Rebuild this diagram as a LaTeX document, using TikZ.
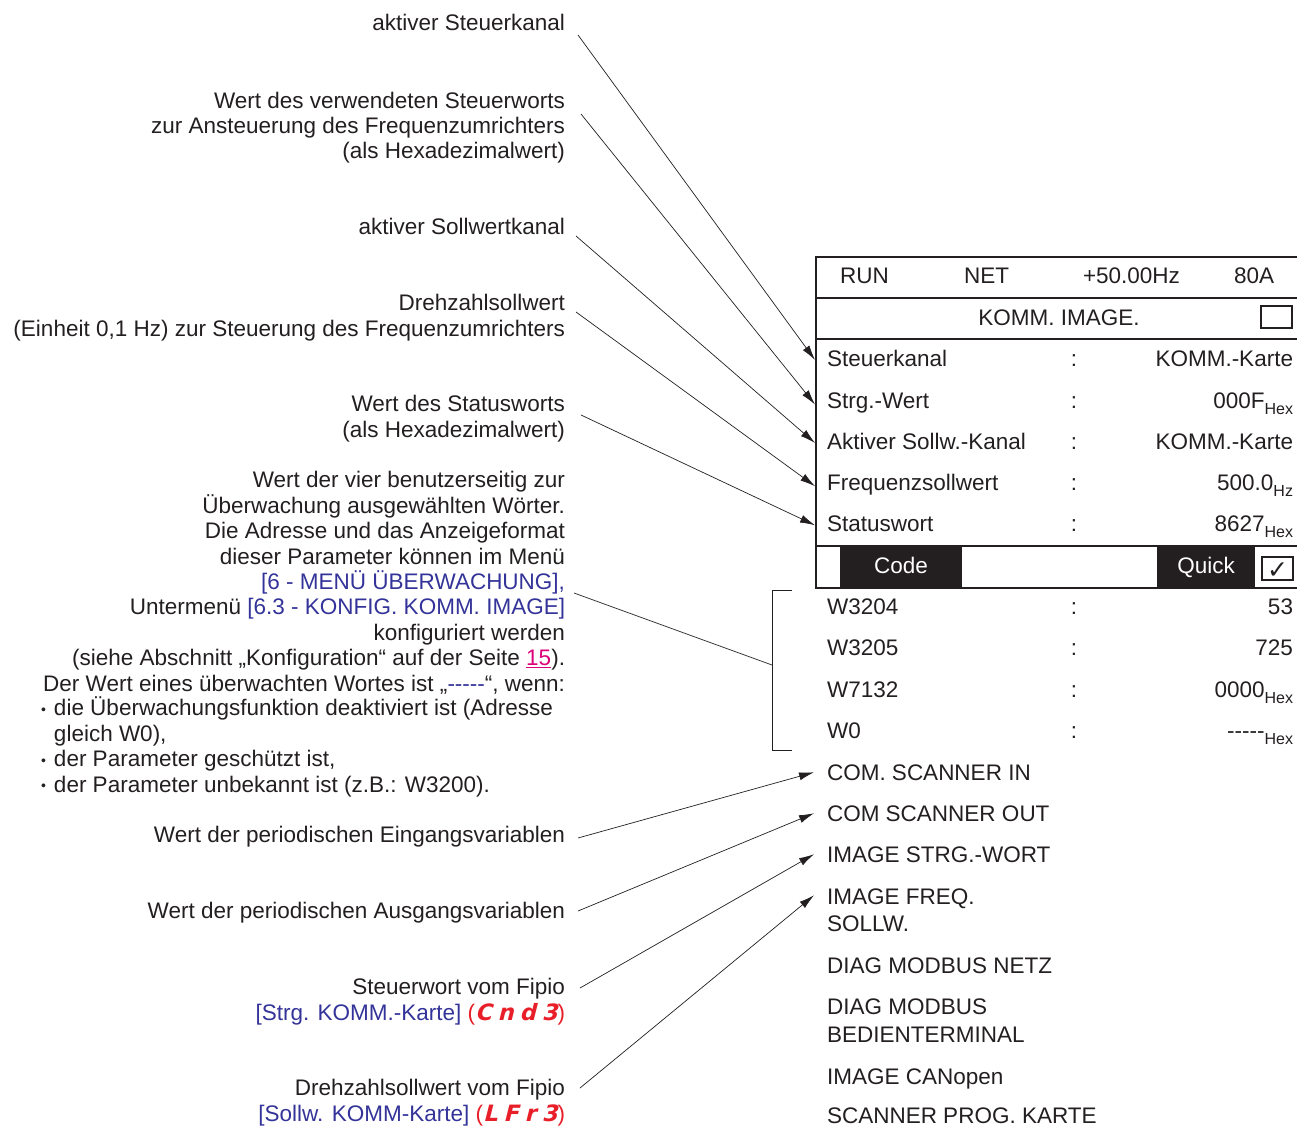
\documentclass[tikz,border=0pt]{standalone}
\usepackage{fontspec}
\setmainfont{Liberation Sans}
\newfontfamily\djv{DejaVu Sans}
\newfontfamily\segfont{DejaVu Sans}[FakeSlant=0.25]
\usetikzlibrary{arrows.meta}
\definecolor{txt}{RGB}{35,31,32}
\definecolor{lnkblue}{RGB}{51,51,153}
\definecolor{segred}{RGB}{232,30,40}
\definecolor{pagemag}{RGB}{220,0,120}
\newcommand\fivedash{\mbox{-}\mbox{-}\mbox{-}\mbox{-}\mbox{-}}
\newcommand\subx[1]{\raisebox{-6pt}{\fontsize{16}{16}\selectfont #1}}
\newcommand\bl{\makebox[13pt][l]{\raisebox{1.5pt}{\fontsize{14}{14}\selectfont •}}}
\newcommand\seg[1]{{\segfont\bfseries #1}}
\begin{document}
\begin{tikzpicture}[x=1pt,y=-1pt,
  every node/.style={inner sep=0pt,outer sep=0pt,text=txt},
  font=\fontsize{22.5}{25.4}\selectfont,
  lefttxt/.style={anchor=base east,align=right},
  rowlbl/.style={anchor=base west},
  rowval/.style={anchor=base east},
  rowcol/.style={anchor=base},
  conn/.style={draw=txt,line width=0.7pt,-{Latex[length=15pt,width=8pt]}},
  plainln/.style={draw=txt,line width=0.7pt},
  frame/.style={draw=txt,line width=2.6pt},
  thinframe/.style={draw=txt,line width=1.2pt},
  blackbox/.style={fill=txt,draw=none},
  chk/.style={draw=txt,line width=1.2pt}
]
\useasboundingbox (0,0) rectangle (1297,1126);

% ---------- left texts (base = baseline of last line) ----------
\node[lefttxt] (l1) at (565,31) {aktiver Steuerkanal};
\node[lefttxt] (l2) at (565,159) {Wert des verwendeten Steuerworts\\zur Ansteuerung des Frequenzumrichters\\(als Hexadezimalwert)};
\node[lefttxt] (l3) at (565,234) {aktiver Sollwertkanal};
\node[lefttxt] (l4) at (565,336) {Drehzahlsollwert\\(Einheit 0,1 Hz) zur Steuerung des Frequenzumrichters};
\node[lefttxt] (l5) at (565,437) {Wert des Statusworts\\(als Hexadezimalwert)};
\node[lefttxt] (l6) at (565,691) {Wert der vier benutzerseitig zur\\
Überwachung ausgewählten Wörter.\\
Die Adresse und das Anzeigeformat\\
dieser Parameter können im Menü\\
{\color{lnkblue}[6 - MENÜ ÜBERWACHUNG],}\\
Untermenü {\color{lnkblue}[6.3 - KONFIG. KOMM. IMAGE]}\\
konfiguriert werden\\
(siehe Abschnitt „Konfiguration“ auf der Seite {\color{pagemag}\underline{15}}).\\
Der Wert eines überwachten Wortes ist „{\color{lnkblue}\fivedash}“, wenn:};
\node[anchor=base west,align=left] (l7) at (41,792) {\bl die Überwachungsfunktion deaktiviert ist (Adresse\\
\hspace*{13pt}gleich W0),\\
\bl der Parameter geschützt ist,\\
\bl der Parameter unbekannt ist (z.B.: W3200).};
\node[lefttxt] (l8) at (565,842) {Wert der periodischen Eingangsvariablen};
\node[lefttxt] (l9) at (565,918) {Wert der periodischen Ausgangsvariablen};
\node[lefttxt] (l10) at (565,1020) {Steuerwort vom Fipio\\
{\color{lnkblue}[Strg. KOMM.-Karte]} {\color{segred}(\seg{C\hspace{6pt}n\hspace{6pt}d\hspace{6pt}3})}};
\node[lefttxt] (l11) at (565,1121) {Drehzahlsollwert vom Fipio\\
{\color{lnkblue}[Sollw. KOMM-Karte]} {\color{segred}(\seg{L\hspace{6pt}F\hspace{6pt}r\hspace{6pt}3})}};

% ---------- display frame ----------
\draw[frame] (1297,257) -- (816,257) -- (816,588) -- (1297,588);
\draw[frame] (816,298) -- (1297,298);
\draw[thinframe] (816,339) -- (1297,339);
\draw[frame] (816,546) -- (1297,546);
\fill[blackbox] (840,547) rectangle (962,587);
\fill[blackbox] (1157,547) rectangle (1255,587);
\draw[chk] (1261,306) rectangle (1292,328);
\draw[chk] (1262,557) rectangle (1293,580);

% header row
\node[rowlbl] (hrun) at (840,283) {RUN};
\node[rowlbl] (hnet) at (964,283) {NET};
\node[rowlbl] (hhz) at (1083,283) {+50.00Hz};
\node[rowlbl] (ha) at (1234,283) {80A};
\node[rowcol] (title) at (1059,325) {KOMM. IMAGE.};

% rows
\node[rowlbl] (r1) at (827,366) {Steuerkanal};
\node[rowcol] (c1) at (1074,366) {:};
\node[rowval] (v1) at (1293,366) {KOMM.-Karte};
\node[rowlbl] (r2) at (827,408) {Strg.-Wert};
\node[rowcol] (c2) at (1074,408) {:};
\node[rowval] (v2) at (1293,408) {000F\subx{Hex}};
\node[rowlbl] (r3) at (827,449) {Aktiver Sollw.-Kanal};
\node[rowcol] (c3) at (1074,449) {:};
\node[rowval] (v3) at (1293,449) {KOMM.-Karte};
\node[rowlbl] (r4) at (827,490) {Frequenzsollwert};
\node[rowcol] (c4) at (1074,490) {:};
\node[rowval] (v4) at (1293,490) {500.0\subx{Hz}};
\node[rowlbl] (r5) at (827,531) {Statuswort};
\node[rowcol] (c5) at (1074,531) {:};
\node[rowval] (v5) at (1293,531) {8627\subx{Hex}};

\node[rowcol,text=white] (code) at (901,573) {Code};
\node[rowcol,text=white] (quick) at (1206,573) {Quick};
\node[rowcol] (tick) at (1277.5,578) {\djv\fontsize{25}{25}\selectfont ✓};

\node[rowlbl] (w1) at (827,614) {W3204};
\node[rowcol] (wc1) at (1074,614) {:};
\node[rowval] (wv1) at (1293,614) {53};
\node[rowlbl] (w2) at (827,655) {W3205};
\node[rowcol] (wc2) at (1074,655) {:};
\node[rowval] (wv2) at (1293,655) {725};
\node[rowlbl] (w3) at (827,697) {W7132};
\node[rowcol] (wc3) at (1074,697) {:};
\node[rowval] (wv3) at (1293,697) {0000\subx{Hex}};
\node[rowlbl] (w4) at (827,738) {W0};
\node[rowcol] (wc4) at (1074,738) {:};
\node[rowval] (wv4) at (1293,738) {\fivedash\subx{Hex}};

\node[rowlbl] (m1) at (827,780) {COM. SCANNER IN};
\node[rowlbl] (m2) at (827,821) {COM SCANNER OUT};
\node[rowlbl] (m3) at (827,862) {IMAGE STRG.-WORT};
\node[rowlbl,align=left,font=\fontsize{22.5}{27}\selectfont] (m4) at (827,931) {IMAGE FREQ.\\SOLLW.};
\node[rowlbl] (m5) at (827,973) {DIAG MODBUS NETZ};
\node[rowlbl,align=left,font=\fontsize{22.5}{28}\selectfont] (m6) at (827,1042) {DIAG MODBUS\\BEDIENTERMINAL};
\node[rowlbl] (m7) at (827,1084) {IMAGE CANopen};
\node[rowlbl] (m8) at (827,1123) {SCANNER PROG. KARTE};

% bracket
\coordinate (bt) at (792,590);
\coordinate (bb) at (792,750);
\coordinate (bm) at (772,665);
\draw[plainln] (bt) -- (772,590) -- (772,750) -- (bb);

% ---------- connectors ----------
\coordinate (s1) at (578,35);
\coordinate (s2) at (581,114);
\coordinate (s3) at (576,236);
\coordinate (s4) at (576,312);
\coordinate (s5) at (581,415);
\coordinate (s6) at (574,593);
\coordinate (s8) at (578,838);
\coordinate (s9) at (578,911);
\coordinate (s10) at (580,988);
\coordinate (s11) at (580,1088);

\draw[conn] (s1) -- ([xshift=-12pt,yshift=-2pt]r1.west);
\draw[conn] (s2) -- ([xshift=-12pt,yshift=-2pt]r2.west);
\draw[conn] (s3) -- ([xshift=-12pt,yshift=-2pt]r3.west);
\draw[conn] (s4) -- ([xshift=-12pt,yshift=-2pt]r4.west);
\draw[conn] (s5) -- ([xshift=-12pt,yshift=-2pt]r5.west);
\draw[plainln] (s6) -- (bm);
\draw[conn] (s8) -- ([xshift=-13pt]m1.west);
\draw[conn] (s9) -- ([xshift=-13pt]m2.west);
\draw[conn] (s10) -- ([xshift=-13pt]m3.west);
\draw[conn] (s11) -- ([xshift=-13pt,yshift=-7pt]m4.north west);
\end{tikzpicture}
\end{document}
